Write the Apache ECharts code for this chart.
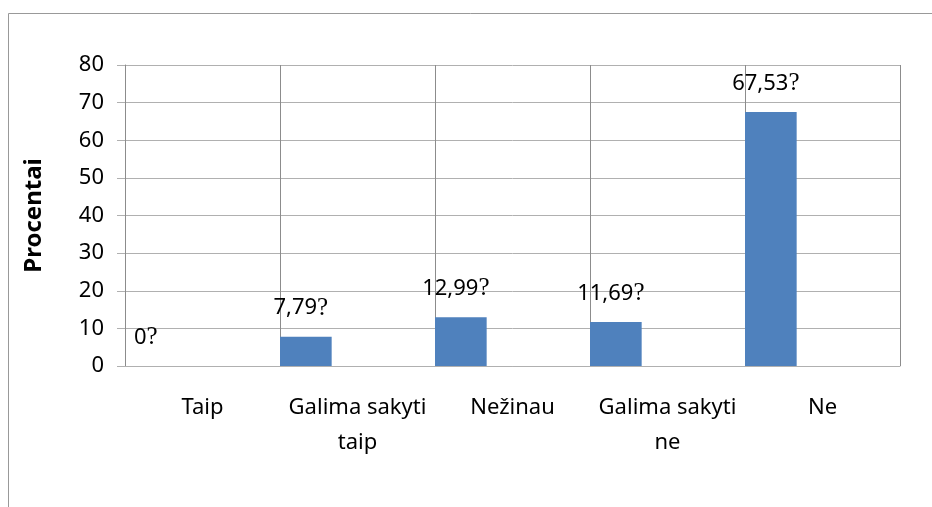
<!DOCTYPE html>
<html>
	<head>
		<meta charset="UTF-8">
		<title>Procentai</title>
		<style>
			html, body { margin: 0; padding: 0; background: #fff; }
		</style>
	</head>
	<body>
		<div id="main" style="width:932px;height:507px;"></div>
	</body>
	<script type="text/javascript" src="https://cdn.jsdelivr.net/npm/echarts@6/dist/echarts.min.js"></script>
	<script>
	// duomenys
	var categories = ['Taip', 'Galima sakyti\ntaip', 'Nežinau', 'Galima sakyti\nne', 'Ne'];
	var values = [0, 7.79, 12.99, 11.69, 67.53];
	var yTicks = [0, 10, 20, 30, 40, 50, 60, 70, 80];

	var font = 'Noto Sans';
	var hGridColor = '#b0b0b0';
	var vGridColor = '#8c8c8c';

	var myChart = echarts.init(document.getElementById('main'));
	var option = {
		animation: false,
		backgroundColor: '#fff',
		textStyle: { fontFamily: font },
		graphic: [{
			type: 'rect',
			shape: { x: 8.5, y: 13.5, width: 1000, height: 1000 },
			style: { fill: 'none', stroke: '#999', lineWidth: 1 },
			silent: true
		}],
		grid: { left: 125, right: 32, top: 65, bottom: 141 },
		xAxis: {
			type: 'category',
			data: categories,
			boundaryGap: true,
			axisLine: { show: true, lineStyle: { color: hGridColor } },
			axisTick: { show: false },
			splitLine: { show: true, lineStyle: { color: vGridColor } },
			axisLabel: {
				interval: 0,
				margin: 24,
				color: '#000',
				fontSize: 22,
				lineHeight: 35,
				fontFamily: font
			}
		},
		yAxis: {
			type: 'value',
			min: yTicks[0],
			max: yTicks[yTicks.length - 1],
			interval: 10,
			name: 'Procentai',
			nameLocation: 'middle',
			nameGap: 79,
			nameTextStyle: { color: '#000', fontSize: 24, fontWeight: 'bold', fontFamily: font },
			axisLine: { show: true, lineStyle: { color: vGridColor } },
			axisTick: { show: true, length: 8, lineStyle: { color: hGridColor } },
			splitLine: { show: true, lineStyle: { color: hGridColor } },
			axisLabel: { margin: 21, color: '#000', fontSize: 22, fontFamily: font }
		},
		series: [
			{
				type: 'bar',
				data: values,
				barGap: 0,
				barCategoryGap: 0,
				itemStyle: { color: '#4f81bd' },
				label: {
					show: true,
					position: 'top',
					distance: 16,
					offset: [-5, 0],
					formatter: function (p) {
						return '{n|' + String(p.value).replace('.', ',') + '}{q|?}';
					},
					rich: {
						n: { fontSize: 22, color: '#000', fontFamily: font },
						q: { fontSize: 25, color: '#000', fontFamily: 'Liberation Serif' }
					}
				}
			},
			// tuscios vietos, kad stulpelis butu kategorijos kaireje
			{ type: 'bar', data: [], barGap: 0, barCategoryGap: 0 },
			{ type: 'bar', data: [], barGap: 0, barCategoryGap: 0 }
		]
	};
	myChart.setOption(option);
	</script>
</html>
